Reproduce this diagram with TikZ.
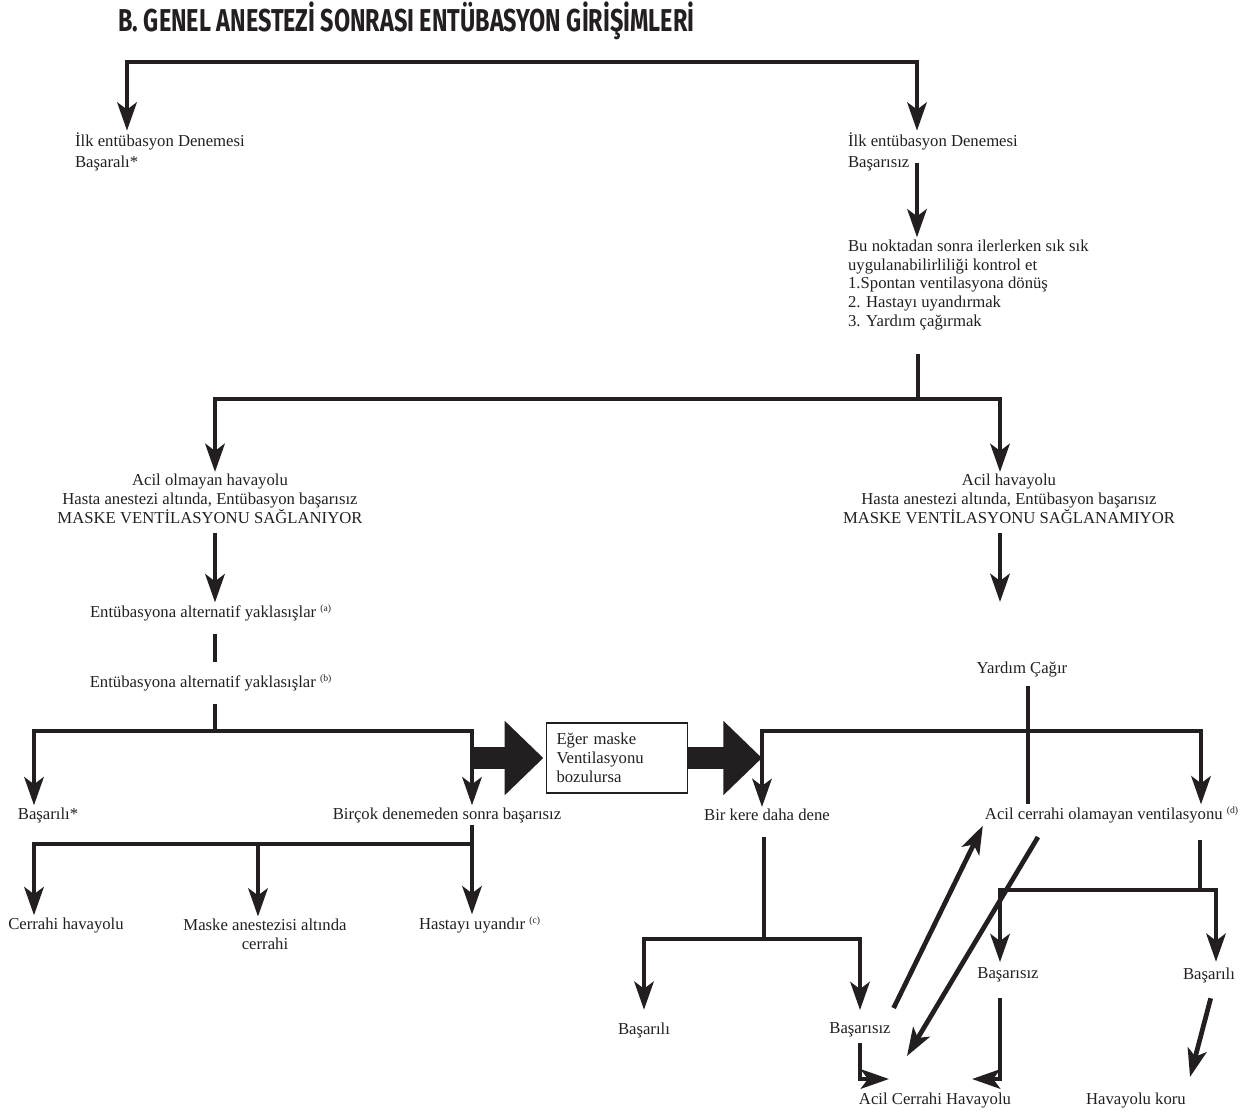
\documentclass[tikz,border=0pt]{standalone}
\usepackage{fontspec}
\setmainfont{Liberation Serif}
\newfontfamily\headfont[FakeStretch=0.74]{Fira Sans}
\usepackage{tikz}
\usetikzlibrary{arrows.meta}

\definecolor{ink}{RGB}{35,31,32}
\newcommand{\fnmark}[1]{\textsuperscript{\fontsize{5.5}{5.5}\selectfont(#1)}}

\begin{document}
\begin{tikzpicture}[x=0.02cm, y=-0.02cm, color=ink,
    lbl/.style={inner sep=1pt, font=\fontsize{9.5}{10.8}\selectfont},
    link/.style={line width=2.7pt, draw=ink},
    arr/.style={link, -{Stealth[length=16pt, width=11pt, inset=4pt]}},
    both/.style={link, {Stealth[length=16pt, width=11pt, inset=4pt]}-{Stealth[length=16pt, width=11pt, inset=4pt]}},
    fat/.style={line width=12pt, draw=ink, -{Triangle[length=22pt, width=41pt]}},
    gap/.style={shorten <=#1}]
        \useasboundingbox (0,0) rectangle (1248,1113);

        % Title
        \node[anchor=base west, inner sep=0pt, font=\headfont\bfseries\fontsize{18}{18}\selectfont] (title) at (118,31) {B. GENEL ANESTEZİ SONRASI ENTÜBASYON GİRİŞİMLERİ};

        % First attempt
        \coordinate (t1) at (127,62);
        \coordinate (t2) at (917,62);
        \node[lbl, anchor=west, align=left] (okA) at (73,152) {İlk entübasyon Denemesi\\[1.2pt]Başaralı*};
        \node[lbl, anchor=west, align=left] (failA) at (846,152) {İlk entübasyon Denemesi\\[1.2pt]Başarısız};
        \draw[both] (okA.north -| t1) -- (t1) -- (t2) -- (failA.north -| t2);

        \node[lbl, anchor=west, align=left] (check) at (846,285) {Bu noktadan sonra ilerlerken sık sık\\uygulanabilirliliği kontrol et\\1.Spontan ventilasyona dönüş\\2. Hastayı uyandırmak\\3. Yardım çağırmak};
        \draw[arr] ([yshift=6pt]failA.south -| t2) -- (check.north -| t2);

        % Airway split
        \coordinate (s2) at (918,399);
        \coordinate (s2L) at (215,399);
        \coordinate (s2R) at (1000,399);
        \node[lbl, align=center] (calm) at (210,499) {Acil olmayan havayolu\\Hasta anestezi altında, Entübasyon başarısız\\MASKE VENTİLASYONU SAĞLANIYOR};
        \node[lbl, align=center] (urgent) at (1009,499) {Acil havayolu\\Hasta anestezi altında, Entübasyon başarısız\\MASKE VENTİLASYONU SAĞLANAMIYOR};
        \draw[link, gap=12pt] (check.south -| s2) -- (s2);
        \draw[both] (calm.north -| s2L) -- (s2L) -- (s2R) -- (urgent.north -| s2R);

        % Non-urgent branch
        \node[lbl] (altA) at (211,613) {Entübasyona alternatif yaklasışlar \fnmark{a}};
        \node[lbl] (altB) at (211,683) {Entübasyona alternatif yaklasışlar \fnmark{b}};
        \draw[arr, gap=4pt] (calm.south -| s2L) -- (altA.north -| s2L);
        \draw[link, gap=6pt, shorten >=6pt] (altA.south -| s2L) -- (altB.north -| s2L);

        \coordinate (s3) at (215,731);
        \coordinate (s3L) at (34,731);
        \coordinate (s3R) at (472,731);
        \node[lbl] (okB) at (48,815) {Başarılı*};
        \node[lbl] (many) at (447,815) {Birçok denemeden sonra başarısız};
        \draw[link, gap=6pt] (altB.south -| s3) -- (s3);
        \draw[both] (okB.north -| s3L) -- (s3L) -- (s3R) -- (many.north -| s3R);

        \coordinate (s4L) at (34,844);
        \coordinate (s4M) at (258,844);
        \coordinate (s4R) at (472,844);
        \node[lbl] (surg) at (66,925) {Cerrahi havayolu};
        \node[lbl, align=center] (mask) at (265,934) {Maske anestezisi altında\\cerrahi};
        \node[lbl] (wake) at (480,925) {Hastayı uyandır \fnmark{c}};
        \draw[link] (many.south -| s4R) -- (s4R);
        \draw[both] (surg.north -| s4L) -- (s4L) -- (s4R) -- (wake.north -| s4R);
        \draw[arr] (s4M) -- (mask.north -| s4M);

        % Mask ventilation lost
        \node[lbl, draw=ink, line width=0.6pt, align=left, text width=2.42cm, minimum height=1.4cm, inner xsep=0.2cm] (lost) at (617,758) {Eğer maske\\Ventilasyonu\\bozulursa};
        \coordinate (s5) at (1028,731);
        \coordinate (s5L) at (762,731);
        \coordinate (s5R) at (1201,731);
        \draw[fat, shorten >=1.5pt] (s3R |- lost.west) -- (lost.west);
        \draw[fat] (lost.east) -- (s5L |- lost.east);

        % Urgent branch
        \coordinate (r1) at (1000,602);
        \node[lbl] (help) at (1022,669) {Yardım Çağır};
        \draw[arr, gap=4pt] (urgent.south -| r1) -- (r1);

        \node[lbl] (again) at (767,815) {Bir kere daha dene};
        \node[lbl] (nonsurg) at (1112,815) {Acil cerrahi olamayan ventilasyonu \fnmark{d}};
        \draw[link, gap=4pt] (help.south -| s5) -- (nonsurg.north -| s5);
        \draw[both] (again.north -| s5L) -- (s5L) -- (s5R) -- (nonsurg.north -| s5R);

        \coordinate (s6) at (764,939);
        \coordinate (s6L) at (644,939);
        \coordinate (s6R) at (860,939);
        \node[lbl] (okC) at (644,1030) {Başarılı};
        \node[lbl] (failC) at (860,1030) {Başarısız};
        \draw[link, gap=8pt] (again.south -| s6) -- (s6);
        \draw[both, shorten <=6pt, shorten >=6pt] (okC.north -| s6L) -- (s6L) -- (s6R) -- (failC.north -| s6R);

        \coordinate (s7) at (1200,890);
        \coordinate (s7L) at (1000,890);
        \coordinate (s7R) at (1216,890);
        \node[lbl] (failD) at (1008,975) {Başarısız};
        \node[lbl] (okD) at (1209,975) {Başarılı};
        \draw[link, gap=8pt] (nonsurg.south -| s7) -- (s7);
        \draw[both, shorten <=2pt, shorten >=2pt] (failD.north -| s7L) -- (s7L) -- (s7R) -- (okD.north -| s7R);

        % Outcomes
        \node[lbl] (emerg) at (935,1100) {Acil Cerrahi Havayolu};
        \node[lbl] (keep) at (1136,1100) {Havayolu koru};
        \coordinate (h1) at (889,1079);
        \coordinate (h2) at (972,1079);
        \coordinate (d1) at (1038,837);
        \coordinate (d2) at (907,1056);
        \coordinate (k2) at (1190,1077);
        \draw[arr, gap=2pt] (failC.south) |- (h1);
        \draw[arr, gap=8pt] (failD.south -| s7L) |- (h2);
        \draw[arr, gap=8pt] ([xshift=-3pt]failC.north east) -- (nonsurg.south west);
        \draw[arr] (d1) -- (d2);
        \draw[arr, gap=8pt] ([xshift=3pt]okD.south) -- (k2);
    \end{tikzpicture}
\end{document}
